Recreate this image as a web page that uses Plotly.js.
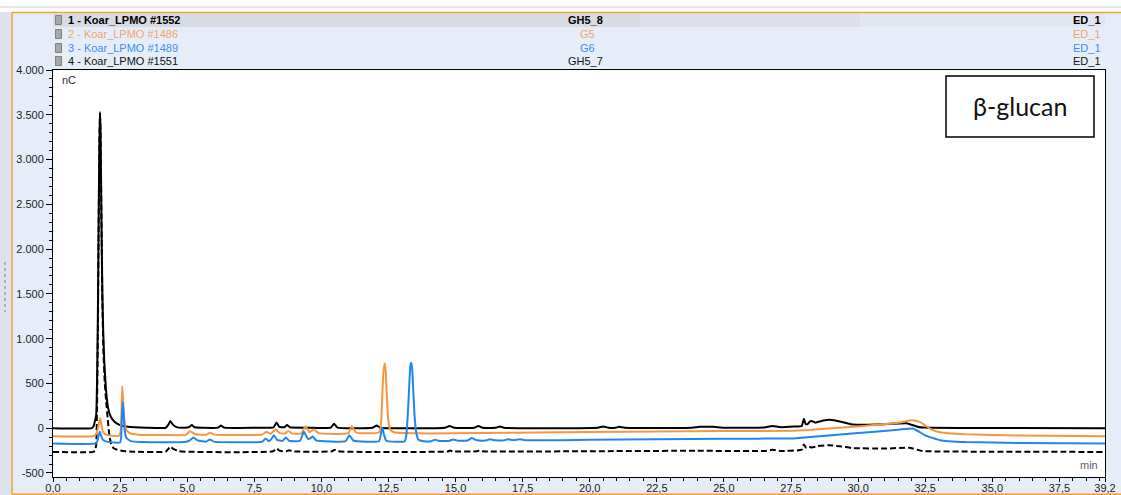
<!DOCTYPE html>
<html>
<head>
<meta charset="utf-8">
<script src="https://cdn.plot.ly/plotly-3.0.1.min.js"></script>
<style>
html,body{margin:0;padding:0;background:#e6edf8;}
#chart{width:1121px;height:495px;}
</style>
</head>
<body>
<div id="chart"></div>
<script>
// ---------- DATA (time [min], signal [nC]) ----------
const seriesNames = ["1 - Koar_LPMO #1552", "2 - Koar_LPMO #1486", "3 - Koar_LPMO #1489", "4 - Koar_LPMO #1551"];
const seriesSamples = ["GH5_8", "G5", "G6", "GH5_7"];
const seriesChannel = ["ED_1", "ED_1", "ED_1", "ED_1"];

const gh5_8 = [[0,0],[1.45,2],[1.52,30],[1.57,90],[1.61,150],[1.64,500],[1.67,1200],[1.70,2300],[1.73,3200],[1.75,3530],[1.77,3350],[1.80,2500],[1.84,1500],[1.87,1100],[1.91,750],[1.97,450],[2.05,230],[2.15,130],[2.3,70],[2.5,35],[2.8,15],[3.5,5],[4.2,5],[4.3,40],[4.37,80],[4.45,45],[4.6,12],[4.9,5],[5.07,12],[5.17,35],[5.28,10],[5.6,5],[6.15,6],[6.26,30],[6.38,6],[7.5,5],[8.22,10],[8.33,65],[8.43,15],[8.62,10],[8.72,35],[8.83,10],[9.5,5],[10.35,6],[10.47,50],[10.6,6],[11.9,5],[12.06,30],[12.2,5],[14.6,5],[14.78,25],[14.95,5],[15.7,5],[15.85,25],[16.0,5],[16.5,5],[16.65,20],[16.8,5],[20.3,5],[20.5,20],[20.7,5],[20.95,5],[21.1,15],[21.3,5],[23.8,5],[24.1,15],[24.6,15],[25.0,5],[26.5,8],[26.8,25],[27.1,12],[27.6,18],[27.9,25],[27.98,105],[28.04,50],[28.12,45],[28.2,75],[28.27,80],[28.4,62],[28.7,85],[28.95,95],[29.4,70],[29.8,40],[31.0,45],[31.8,55],[32.3,10],[34,3],[39.2,0]];

const g5 = [[0,-90],[1.5,-90],[1.6,-70],[1.68,0],[1.73,80],[1.76,110],[1.80,50],[1.86,-40],[1.95,-70],[2.2,-85],[2.45,-85],[2.52,-40],[2.55,150],[2.58,469],[2.61,320],[2.65,120],[2.72,-10],[2.85,-55],[3.2,-72],[4.0,-76],[4.95,-74],[5.1,-34],[5.3,-68],[5.7,-73],[5.85,-52],[6.0,-72],[7.8,-70],[7.96,-41],[8.1,-62],[8.3,-15],[8.45,-55],[8.65,-60],[8.77,-30],[8.9,-58],[9.25,-60],[9.41,22],[9.55,-45],[9.72,-15],[9.9,-55],[11.0,-56],[11.13,22],[11.3,-50],[12.1,-52],[12.18,-30],[12.23,80],[12.27,360],[12.31,620],[12.36,725],[12.40,620],[12.44,360],[12.49,100],[12.56,-15],[12.7,-45],[14,-58],[20,-42],[25,-32],[27.6,-28],[28,-22],[30,20],[31.5,60],[32.0,88],[32.3,70],[32.7,-10],[33.05,-45],[34,-68],[36,-82],[39.2,-90]];

const g6 = [[0,-170],[1.6,-170],[1.66,-140],[1.71,-70],[1.75,-41],[1.79,-80],[1.86,-130],[2.0,-150],[2.3,-160],[2.5,-160],[2.54,-100],[2.57,150],[2.6,294],[2.63,170],[2.67,-20],[2.74,-110],[2.9,-145],[3.3,-155],[4.9,-155],[5.1,-135],[5.23,-104],[5.4,-138],[5.7,-150],[5.85,-126],[6.0,-150],[7.8,-150],[7.92,-115],[8.05,-145],[8.13,-125],[8.23,-78],[8.35,-130],[8.55,-142],[8.68,-104],[8.8,-140],[9.2,-142],[9.35,-41],[9.5,-120],[9.6,-112],[9.67,-89],[9.8,-135],[10.9,-145],[11.04,-78],[11.2,-140],[12.15,-145],[12.22,-60],[12.27,8],[12.33,-70],[12.42,-140],[13.1,-148],[13.16,-90],[13.22,150],[13.27,450],[13.31,680],[13.34,730],[13.38,680],[13.42,450],[13.47,150],[13.54,-60],[13.62,-130],[13.8,-145],[14.1,-145],[14.23,-128],[14.4,-142],[14.75,-142],[14.91,-125],[15.1,-140],[15.45,-138],[15.6,-110],[15.8,-135],[16.1,-138],[16.28,-124],[16.5,-136],[16.8,-136],[16.96,-124],[17.15,-134],[17.4,-124],[17.6,-134],[20,-130],[25,-117],[27.6,-115],[28,-105],[30,-55],[31.5,-17],[32.05,-3],[32.5,-80],[33.05,-134],[34,-155],[36,-165],[39.2,-171]];

const gh5_7 = [[0,-265],[1.5,-265],[1.57,-245],[1.61,-180],[1.64,200],[1.67,1000],[1.70,2200],[1.73,3200],[1.75,3500],[1.77,3300],[1.80,2450],[1.84,1400],[1.88,850],[1.93,500],[1.98,300],[2.04,100],[2.1,-80],[2.17,-180],[2.25,-220],[2.37,-238],[2.6,-255],[3.0,-262],[4.2,-262],[4.3,-230],[4.37,-205],[4.5,-235],[4.7,-258],[8.2,-258],[8.33,-227],[8.45,-252],[8.7,-258],[8.8,-245],[8.9,-258],[10.4,-258],[10.5,-240],[10.62,-258],[14.7,-260],[14.8,-250],[14.9,-260],[15.8,-258],[15.9,-248],[16.0,-258],[20,-257],[24,-252],[26.5,-255],[26.8,-242],[27.1,-254],[27.9,-240],[27.98,-182],[28.06,-215],[28.15,-205],[28.27,-215],[28.5,-200],[28.9,-190],[29.4,-205],[29.8,-222],[31.0,-228],[31.9,-218],[32.4,-255],[35,-262],[39.2,-265]];

const xTickVals = [0,2.5,5,7.5,10,12.5,15,17.5,20,22.5,25,27.5,30,32.5,35,37.5,39.2];
const xTickText = ["0,0","2,5","5,0","7,5","10,0","12,5","15,0","17,5","20,0","22,5","25,0","27,5","30,0","32,5","35,0","37,5","39,2"];
const yTickVals = [-500,0,500,1000,1500,2000,2500,3000,3500,4000];
const yTickText = ["-500","0","500","1.000","1.500","2.000","2.500","3.000","3.500","4.000"];

// ---------- STYLE ----------
const W = 1121, H = 495, ML = 53, MR = 16, MT = 70, MB = 18;
const PW = W - ML - MR, PH = H - MT - MB;
const px = x => (x - ML) / PW;
const py = y => (H - MB - y) / PH;
const FONT = "Liberation Sans, Arial, sans-serif";
const colBlack = "#000000", colOrange = "#f7963c", colBlue = "#1f86f0";
const txtOrange = "#f2a46a", txtBlue = "#3a8ef5";

function tr(data, color, dash, name){
  return {x: data.map(p=>p[0]), y: data.map(p=>p[1]), type:"scatter", mode:"lines",
    name: name, line:{color:color, width:2, dash:dash, shape:"spline", smoothing:0.4}, hoverinfo:"skip"};
}
const traces = [
  tr(gh5_7, colBlack, "6px,3px", seriesNames[3]),
  tr(gh5_8, colBlack, "solid", seriesNames[0]),
  tr(g5, colOrange, "solid", seriesNames[1]),
  tr(g6, colBlue, "solid", seriesNames[2])
];

const rowY = [20, 34, 48, 61];
const rowColor = [colBlack, txtOrange, txtBlue, "#111"];
const rowBold = [true, false, false, false];
const sampleX = [566, 578, 578, 566];

const annotations = [];
const shapes = [];
// background regions
shapes.push({type:"rect", xref:"paper", yref:"paper", x0:px(0), x1:px(W), y0:py(12), y1:py(0), fillcolor:"#ffffff", line:{width:0}, layer:"below"});
shapes.push({type:"line", xref:"paper", yref:"paper", x0:px(0), x1:px(W), y0:py(7), y1:py(7), line:{color:"#cfcfd4", width:1}});
shapes.push({type:"rect", xref:"paper", yref:"paper", x0:px(0), x1:px(11), y0:py(H), y1:py(12), fillcolor:"#dde3ec", line:{width:0}});
shapes.push({type:"line", xref:"paper", yref:"paper", x0:px(5), x1:px(5), y0:py(262), y1:py(312), line:{color:"#9aa0aa", width:1.5, dash:"dot"}});
shapes.push({type:"line", xref:"paper", yref:"paper", x0:px(12), x1:px(W), y0:py(12.5), y1:py(12.5), line:{color:"#f0a030", width:1.5}});
shapes.push({type:"line", xref:"paper", yref:"paper", x0:px(12), x1:px(12), y0:py(12.5), y1:py(494.5), line:{color:"#f0a030", width:1.5}});
shapes.push({type:"line", xref:"paper", yref:"paper", x0:px(12), x1:px(W), y0:py(494.3), y1:py(494.3), line:{color:"#f0a030", width:1.5}});
// highlighted first legend row (fading to the right)
shapes.push({type:"rect", xref:"paper", yref:"paper", x0:px(53), x1:px(640), y0:py(27), y1:py(14), fillcolor:"#d9dbe3", line:{width:0}});
shapes.push({type:"rect", xref:"paper", yref:"paper", x0:px(640), x1:px(860), y0:py(27), y1:py(14), fillcolor:"#dde0e8", line:{width:0}});
shapes.push({type:"rect", xref:"paper", yref:"paper", x0:px(860), x1:px(1105), y0:py(27), y1:py(14), fillcolor:"#e2e6ef", line:{width:0}});

for (let i = 0; i < 4; i++) {
  shapes.push({type:"rect", xref:"paper", yref:"paper", x0:px(55.5), x1:px(61.5), y0:py(rowY[i]+4.5), y1:py(rowY[i]-4.5), fillcolor:"#a8a8a8", line:{color:"#6e6e6e", width:0.8}});
  const t = s => rowBold[i] ? "<b>" + s + "</b>" : s;
  const f = {family:FONT, size:11, color:rowColor[i]};
  annotations.push({xref:"paper", yref:"paper", x:px(66), y:py(rowY[i]), xanchor:"left", yanchor:"middle", text:t(seriesNames[i]), showarrow:false, font:f});
  annotations.push({xref:"paper", yref:"paper", x:px(sampleX[i]), y:py(rowY[i]), xanchor:"left", yanchor:"middle", text:t(seriesSamples[i]), showarrow:false, font:f});
  annotations.push({xref:"paper", yref:"paper", x:px(1103), y:py(rowY[i]), xanchor:"right", yanchor:"middle", text:t(seriesChannel[i]), showarrow:false, font:f});
}
annotations.push({xref:"paper", yref:"paper", x:px(60), y:py(80), xanchor:"left", yanchor:"middle", text:"nC", showarrow:false, font:{family:FONT, size:11, color:"#333"}});
annotations.push({xref:"paper", yref:"paper", x:px(1100), y:py(465), xanchor:"right", yanchor:"middle", text:"min", showarrow:false, font:{family:FONT, size:11, color:"#5e5470"}});
// beta-glucan label box
shapes.push({type:"rect", xref:"paper", yref:"paper", x0:px(946), x1:px(1094), y0:py(137), y1:py(76), fillcolor:"#ffffff", line:{color:"#000", width:1.5}});
annotations.push({xref:"paper", yref:"paper", x:px(1020), y:py(106), xanchor:"center", yanchor:"middle", text:"β-glucan", showarrow:false, font:{family:"Lato, Open Sans, sans-serif", size:25, color:"#111"}});

const layout = {
  width:W, height:H,
  margin:{l:ML, r:MR, t:MT, b:MB, pad:0},
  paper_bgcolor:"#e6edf8", plot_bgcolor:"#ffffff",
  showlegend:false,
  font:{family:FONT, size:11, color:"#222"},
  xaxis:{range:[0,39.2], tickmode:"array", tickvals:xTickVals, ticktext:xTickText,
    ticks:"outside", ticklen:4, tickcolor:"#000", showgrid:false, zeroline:false,
    showline:true, linecolor:"#000", linewidth:1, mirror:true, ticklabelstandoff:-3,
    tickfont:{family:FONT, size:11, color:"#222"},
    minor:{tickmode:"linear", tick0:0, dtick:0.5, ticks:"outside", ticklen:3, tickcolor:"#000", showgrid:false}},
  yaxis:{range:[-545,4000], tickmode:"array", tickvals:yTickVals, ticktext:yTickText,
    ticks:"outside", ticklen:6, tickcolor:"#000", showgrid:false, zeroline:false,
    showline:true, linecolor:"#000", linewidth:1, mirror:true,
    tickfont:{family:FONT, size:11, color:"#222"},
    minor:{tickmode:"linear", tick0:0, dtick:100, ticks:"outside", ticklen:3, tickcolor:"#000", showgrid:false}},
  shapes:shapes,
  annotations:annotations
};

Plotly.newPlot("chart", traces, layout, {staticPlot:true, displayModeBar:false});
</script>
</body>
</html>
